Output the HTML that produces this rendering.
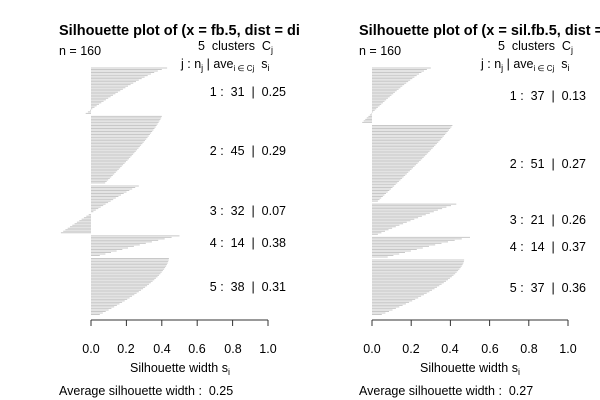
<!DOCTYPE html>
<html><head><meta charset="utf-8"><style>
body{margin:0;background:#fff}
svg{display:block;font-family:"Liberation Sans",sans-serif}
text{white-space:pre}
</style></head><body>
<svg id="s" width="600" height="400" xmlns="http://www.w3.org/2000/svg" xml:space="preserve">
<defs><clipPath id="cl"><rect x="0" y="0" width="300" height="400"/></clipPath></defs>
<g font-size="12.5" fill="#000">
<text x="59" y="35" font-size="14.5" font-weight="bold" clip-path="url(#cl)">Silhouette plot of (x = fb.5, dist = dist.fb)</text>
<text x="59" y="55">n = 160</text>
<text x="198" y="50">5  clusters  C<tspan font-size="9" dy="3">j</tspan></text>
<text x="181" y="68">j : n<tspan font-size="9" dy="3">j</tspan><tspan dy="-3"> | ave</tspan><tspan font-size="8" dy="3">i ∈ Cj</tspan><tspan dy="-3">  s</tspan><tspan font-size="9" dy="3">i</tspan></text>
<g text-anchor="end"><text x="286" y="96">1 :  31  |  0.25</text><text x="286" y="155">2 :  45  |  0.29</text><text x="286" y="215">3 :  32  |  0.07</text><text x="286" y="247">4 :  14  |  0.38</text><text x="286" y="291">5 :  38  |  0.31</text></g>
<g text-anchor="middle"><text x="91" y="353">0.0</text><text x="126" y="353">0.2</text><text x="162" y="353">0.4</text><text x="197" y="353">0.6</text><text x="233" y="353">0.8</text><text x="268" y="353">1.0</text>
<text x="180" y="372">Silhouette width s<tspan font-size="9" dy="3">i</tspan></text></g>
<text x="59" y="395">Average silhouette width :  0.25</text>

<text x="359" y="35" font-size="14.5" font-weight="bold">Silhouette plot of (x = sil.fb.5, dist = dist.fb)</text>
<text x="359" y="55">n = 160</text>
<text x="498" y="50">5  clusters  C<tspan font-size="9" dy="3">j</tspan></text>
<text x="481" y="68">j : n<tspan font-size="9" dy="3">j</tspan><tspan dy="-3"> | ave</tspan><tspan font-size="8" dy="3">i ∈ Cj</tspan><tspan dy="-3">  s</tspan><tspan font-size="9" dy="3">i</tspan></text>
<g text-anchor="end"><text x="586" y="100">1 :  37  |  0.13</text><text x="586" y="168">2 :  51  |  0.27</text><text x="586" y="224">3 :  21  |  0.26</text><text x="586" y="251">4 :  14  |  0.37</text><text x="586" y="292">5 :  37  |  0.36</text></g>
<g text-anchor="middle"><text x="372" y="353">0.0</text><text x="411" y="353">0.2</text><text x="450" y="353">0.4</text><text x="490" y="353">0.6</text><text x="529" y="353">0.8</text><text x="568" y="353">1.0</text>
<text x="470" y="372">Silhouette width s<tspan font-size="9" dy="3">i</tspan></text></g>
<text x="359" y="395">Average silhouette width :  0.27</text>
</g>
<g stroke="#333" fill="none">
<path d="M91 320H268M91 320v6M126.4 320v6M161.8 320v6M197.2 320v6M232.6 320v6M268 320v6"/>
<path d="M372 320H568M372 320v6M411.2 320v6M450.4 320v6M489.6 320v6M528.8 320v6M568 320v6"/>
</g>
<g id="bars" stroke="#c8c8c8" stroke-width="1"></g>
</svg>
<script>
var g=document.getElementById('bars'),h='';
function panel(x0,sc,cl){
  var dy=248/164,row=0;
  cl.forEach(function(c,k){
    for(var i=0;i<c[0];i++){
      var t=c[0]>1?i/(c[0]-1):0;
      var v=c[1]-(c[1]-c[2])*Math.pow(t,c[3]);
      var y=(68+row*dy).toFixed(1);
      var a=x0,b=x0+v*sc;
      h+='<line x1="'+Math.min(a,b).toFixed(1)+'" x2="'+Math.max(a,b).toFixed(1)+'" y1="'+y+'" y2="'+y+'"/>';
      row++;
    }
    row++;
  });
}
panel(91,177,[[31,0.43,-0.03,0.8],[45,0.40,0.08,1.2],[32,0.27,-0.17,0.9],[14,0.50,0.05,0.9],[38,0.44,0.05,1.6]]);
panel(372,196,[[37,0.30,-0.05,0.8],[51,0.41,0.03,1.1],[21,0.43,0.03,0.9],[14,0.50,0.08,0.9],[37,0.47,0.05,1.6]]);
g.innerHTML=h;
</script>
</body></html>
